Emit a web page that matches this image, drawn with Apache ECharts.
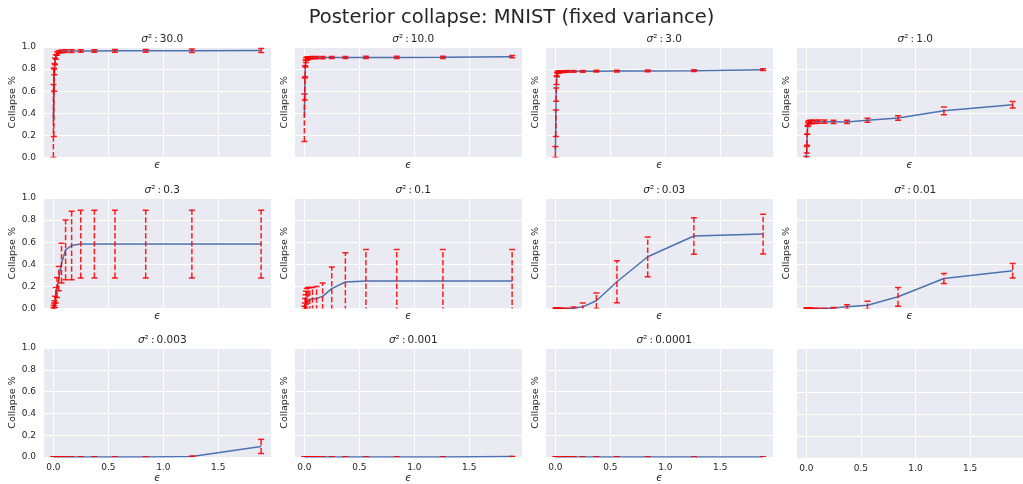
<!DOCTYPE html>
<html>
<head>
<meta charset="utf-8">
<script src="https://cdn.jsdelivr.net/npm/echarts@6/dist/echarts.min.js"></script>
<style>
html, body { margin: 0; padding: 0; background: #fff; }
#chart { width: 1023px; height: 484px; }
</style>
</head>
<body>
<div id="chart"></div>
<script>
// epsilon values shared by every panel
const eps = [0, 0.004, 0.0065, 0.01, 0.015, 0.022, 0.033, 0.049, 0.074, 0.111, 0.166, 0.249, 0.373, 0.56, 0.84, 1.26, 1.89];

const sigmaLabels = ['30.0', '10.0', '3.0', '1.0', '0.3', '0.1', '0.03', '0.01', '0.003', '0.001', '0.0001'];

// mean collapse and std (error bar half-width), one pair per sigma^2
const mean30 = [0.33, 0.50, 0.70, 0.80, 0.87, 0.91, 0.94, 0.955, 0.96, 0.962, 0.963, 0.964, 0.964, 0.965, 0.965, 0.966, 0.968];
const err30 = [0.33, 0.31, 0.10, 0.05, 0.03, 0.02, 0.015, 0.012, 0.012, 0.012, 0.012, 0.012, 0.012, 0.012, 0.012, 0.015, 0.018];
const mean10 = [0.36, 0.62, 0.78, 0.85, 0.88, 0.895, 0.90, 0.902, 0.903, 0.904, 0.904, 0.905, 0.905, 0.906, 0.906, 0.907, 0.912];
const err10 = [0.215, 0.10, 0.05, 0.03, 0.02, 0.015, 0.012, 0.01, 0.01, 0.01, 0.01, 0.01, 0.01, 0.01, 0.01, 0.01, 0.01];
const mean3 = [0.05, 0.31, 0.57, 0.70, 0.75, 0.77, 0.775, 0.777, 0.778, 0.779, 0.78, 0.78, 0.781, 0.782, 0.783, 0.786, 0.795];
const err3 = [0.05, 0.12, 0.06, 0.04, 0.02, 0.01, 0.008, 0.008, 0.008, 0.008, 0.008, 0.008, 0.008, 0.008, 0.008, 0.008, 0.008];
const mean1 = [0.0, 0.07, 0.16, 0.25, 0.30, 0.318, 0.322, 0.323, 0.323, 0.324, 0.324, 0.323, 0.322, 0.338, 0.357, 0.423, 0.477];
const err1 = [0.01, 0.03, 0.05, 0.04, 0.02, 0.015, 0.015, 0.015, 0.015, 0.015, 0.015, 0.015, 0.015, 0.018, 0.02, 0.035, 0.03];
const mean03 = [0.0, 0.01, 0.02, 0.03, 0.06, 0.12, 0.19, 0.27, 0.41, 0.53, 0.57, 0.583, 0.583, 0.583, 0.583, 0.583, 0.583];
const err03 = [0.01, 0.02, 0.03, 0.04, 0.05, 0.07, 0.09, 0.11, 0.18, 0.27, 0.31, 0.307, 0.307, 0.307, 0.307, 0.307, 0.307];
const mean01 = [0.0, 0.02, 0.04, 0.055, 0.065, 0.07, 0.075, 0.08, 0.085, 0.09, 0.11, 0.18, 0.24, 0.248, 0.248, 0.248, 0.248];
const err01 = [0.02, 0.03, 0.05, 0.07, 0.09, 0.11, 0.115, 0.11, 0.105, 0.11, 0.12, 0.195, 0.265, 0.287, 0.287, 0.287, 0.287];
const mean003 = [0, 0, 0, 0, 0, 0, 0, 0, 0, 0, 0.003, 0.015, 0.07, 0.242, 0.468, 0.656, 0.674];
const err003 = [0, 0, 0, 0, 0, 0, 0, 0, 0, 0, 0.01, 0.035, 0.07, 0.19, 0.18, 0.165, 0.18];
const mean001 = [0, 0, 0, 0, 0, 0, 0, 0, 0, 0, 0, 0.005, 0.015, 0.03, 0.106, 0.272, 0.342];
const err001 = [0, 0, 0, 0, 0, 0, 0, 0, 0, 0, 0, 0.005, 0.02, 0.035, 0.085, 0.045, 0.065];
const mean0003 = [0, 0, 0, 0, 0, 0, 0, 0, 0, 0, 0, 0, 0, 0, 0, 0.005, 0.097];
const err0003 = [0, 0, 0, 0, 0, 0, 0, 0, 0, 0, 0, 0, 0, 0, 0, 0.004, 0.065];
const mean0001 = [0, 0, 0, 0, 0, 0, 0, 0, 0, 0, 0, 0, 0, 0, 0, 0.001, 0.004];
const err0001 = [0, 0, 0, 0, 0, 0, 0, 0, 0, 0, 0, 0, 0, 0, 0, 0, 0];
const mean00001 = [0, 0, 0, 0, 0, 0, 0, 0, 0, 0, 0, 0, 0, 0, 0, 0, 0];
const err00001 = [0, 0, 0, 0, 0, 0, 0, 0, 0, 0, 0, 0, 0, 0, 0, 0, 0];

const means = [mean30, mean10, mean3, mean1, mean03, mean01, mean003, mean001, mean0003, mean0001, mean00001];
const errs = [err30, err10, err3, err1, err03, err01, err003, err001, err0003, err0001, err00001];

const colLeft = [43, 294, 545, 796];
const rowTop = [47, 198, 348];
const W = 228.5, H = 110.5;
const xMin = -0.0945, xMax = 1.9845;

const font = 'DejaVu Sans';
const ink = '#262626';
const red = 'rgba(255,0,0,0.88)';

const grids = [], xAxes = [], yAxes = [], titles = [], series = [];

titles.push({
  text: 'Posterior collapse: MNIST (fixed variance)',
  left: 'center',
  top: 3,
  textStyle: { fontFamily: font, fontSize: 19.5, fontWeight: 'normal', color: ink }
});

function errorBar(params, api) {
  const x = api.value(0), m = api.value(1), e = api.value(2);
  const lo = api.coord([x, m - e]);
  const hi = api.coord([x, m + e]);
  const cw = 3;
  return {
    type: 'group',
    children: [
      { type: 'line', shape: { x1: lo[0], y1: lo[1], x2: hi[0], y2: hi[1] },
        style: { stroke: red, lineWidth: 1.5, lineDash: [5.5, 2.4] } },
      { type: 'line', shape: { x1: lo[0] - cw, y1: lo[1], x2: lo[0] + cw, y2: lo[1] },
        style: { stroke: red, lineWidth: 1.5 } },
      { type: 'line', shape: { x1: hi[0] - cw, y1: hi[1], x2: hi[0] + cw, y2: hi[1] },
        style: { stroke: red, lineWidth: 1.5 } }
    ]
  };
}

for (let i = 0; i < 12; i++) {
  const row = Math.floor(i / 4), col = i % 4;
  const hasData = i < sigmaLabels.length;
  grids.push({
    left: colLeft[col], top: rowTop[row], width: W, height: H,
    show: true, backgroundColor: '#eaeaf2', borderWidth: 0
  });
  xAxes.push({
    gridIndex: i, type: 'value', min: xMin, max: xMax, splitNumber: 4,
    axisLine: { show: false }, axisTick: { show: false },
    splitLine: { lineStyle: { color: '#ffffff', width: 1 } },
    axisLabel: {
      show: row === 2, color: ink, fontFamily: font, fontSize: 9, margin: 6,
      showMinLabel: false, showMaxLabel: false,
      formatter: v => (Math.abs(v * 2 - Math.round(v * 2)) < 1e-6 ? v.toFixed(1) : '')
    },
    name: hasData ? 'ϵ' : '', nameLocation: 'middle', nameGap: row === 2 ? 16 : 3,
    nameTextStyle: { fontFamily: font, fontStyle: 'italic', fontSize: 10, color: ink }
  });
  yAxes.push({
    gridIndex: i, type: 'value', min: 0, max: 1, interval: 0.2,
    axisLine: { show: false }, axisTick: { show: false },
    splitLine: { lineStyle: { color: '#ffffff', width: 1 } },
    axisLabel: { show: col === 0, color: ink, fontFamily: font, fontSize: 9, margin: 7,
      formatter: v => v.toFixed(1) },
    name: hasData ? 'Collapse %' : '', nameLocation: 'middle', nameGap: col === 0 ? 24 : 4,
    nameTextStyle: { fontFamily: font, fontSize: 9.5, color: ink }
  });
  if (!hasData) continue;
  titles.push({
    text: '{s|σ}{n|²\u2009:\u2009' + sigmaLabels[i] + '}',
    left: colLeft[col] + W / 2, top: rowTop[row] - 18, textAlign: 'center',
    textStyle: {
      fontWeight: 'normal',
      rich: {
        s: { fontFamily: font, fontStyle: 'italic', fontWeight: 'normal', fontSize: 10.5, color: ink },
        n: { fontFamily: font, fontWeight: 'normal', fontSize: 10.5, color: ink }
      }
    }
  });
  series.push({
    type: 'line', xAxisIndex: i, yAxisIndex: i,
    data: eps.map((x, k) => [x, means[i][k]]),
    symbol: 'none', lineStyle: { color: '#4c72b0', width: 1.5 }, z: 2, silent: true
  });
  series.push({
    type: 'custom', xAxisIndex: i, yAxisIndex: i, clip: true,
    data: eps.map((x, k) => [x, means[i][k], errs[i][k]]),
    encode: { x: 0, y: 1 },
    renderItem: errorBar, z: 3, silent: true
  });
}

const chart = echarts.init(document.getElementById('chart'), null, { renderer: 'canvas' });
chart.setOption({
  animation: false,
  backgroundColor: '#ffffff',
  title: titles,
  grid: grids,
  xAxis: xAxes,
  yAxis: yAxes,
  series: series
});
</script>
</body>
</html>
